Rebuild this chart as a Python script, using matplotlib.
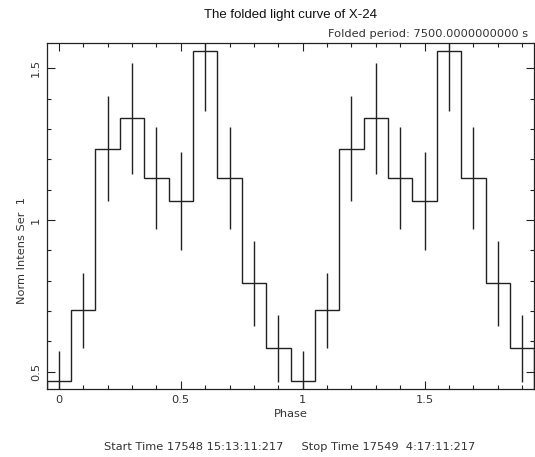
import matplotlib
matplotlib.use("Agg")
import matplotlib.pyplot as plt
import numpy as np
from matplotlib.ticker import MultipleLocator

# one folded cycle (10 phase bins), plotted twice
rate = [0.469, 0.702, 1.235, 1.335, 1.138, 1.062, 1.556, 1.138, 0.791, 0.577]
err = [0.099, 0.123, 0.172, 0.182, 0.169, 0.162, 0.196, 0.169, 0.140, 0.110]
nbins = len(rate)

rate2 = np.array(rate * 2)
err2 = np.array(err * 2)
phase = np.arange(2 * nbins) / nbins
edges = np.append(phase - 0.5 / nbins, phase[-1] + 0.5 / nbins)

title = "The folded light curve of X-24"
period_txt = "Folded period: 7500.0000000000 s"
times_txt = "Start Time 17548 15:13:11:217     Stop Time 17549  4:17:11:217"

ink = "#222222"
txt = "#333333"
fs = 8.2
plt.rcParams["font.family"] = "DejaVu Sans"

fig = plt.figure(figsize=(5.35, 4.57), dpi=100)
ax = fig.add_axes([0.0873, 0.1481, 0.9114, 0.7571])

ax.stairs(rate2, edges, color=ink, lw=1.0)
ax.errorbar(phase, rate2, yerr=err2, fmt="none", ecolor=ink, elinewidth=1.0, capsize=0)

ax.set_xlim(edges[0], edges[-1])
ax.set_ylim(0.442, 1.582)

ax.xaxis.set_major_locator(MultipleLocator(0.5))
ax.xaxis.set_minor_locator(MultipleLocator(0.1))
ax.yaxis.set_major_locator(MultipleLocator(0.5))
ax.yaxis.set_minor_locator(MultipleLocator(0.1))
ax.xaxis.set_major_formatter(plt.FuncFormatter(lambda v, p: f"{v:g}"))
ax.yaxis.set_major_formatter(plt.FuncFormatter(lambda v, p: f"{v:g}"))
ax.tick_params(which="both", direction="in", top=True, right=True,
               color=ink, labelcolor=txt, labelsize=fs, width=0.8)
ax.tick_params(which="major", length=6, pad=4)
ax.tick_params(which="minor", length=3)
for lab in ax.get_yticklabels():
    lab.set_rotation(90)
    lab.set_va("center")
for s in ax.spines.values():
    s.set_color(ink)
    s.set_linewidth(0.9)

ax.set_xlabel("Phase", fontsize=fs, color=txt, labelpad=3)
fig.text(21.7 / 535, 1 - 250 / 457, "Norm Intens Ser  1", rotation=90,
         fontsize=fs, color=txt, ha="center", va="center")

fig.text(290 / 535, 1 - 15 / 457, title, family="Liberation Sans",
         fontsize=9.5, color="#111111", ha="center", va="center")
fig.text(528 / 535, 1 - 34 / 457, period_txt, fontsize=fs, color=txt,
         ha="right", va="center")
fig.text(290 / 535, 1 - 447 / 457, times_txt, fontsize=fs, color=txt,
         ha="center", va="center")

fig.savefig("out.png", dpi=100)
